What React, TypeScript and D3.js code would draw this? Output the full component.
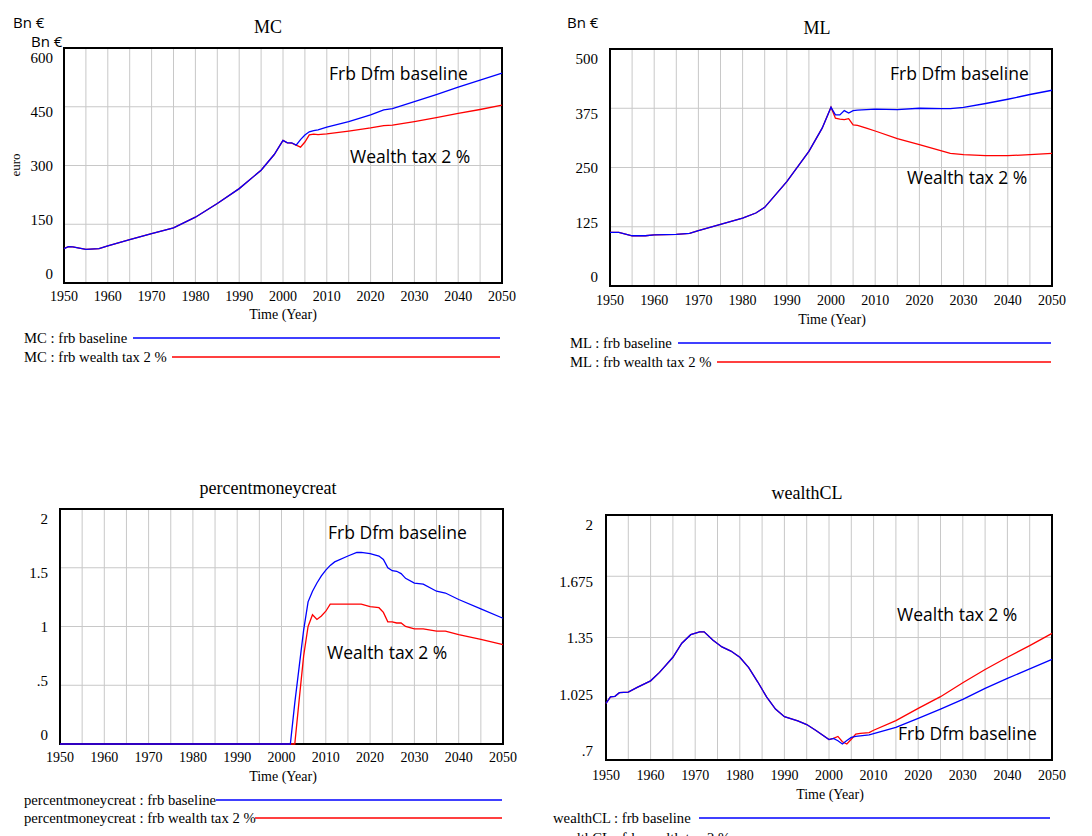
import React from 'react';
import * as d3 from 'd3';

// ---- shared time axis ----
const timeTicks = [1950, 1960, 1970, 1980, 1990, 2000, 2010, 2020, 2030, 2040, 2050];
const timeGrid = [1955, 1965, 1975, 1985, 1995, 2005, 2015, 2025, 2035, 2045];

// ---- MC (Bn €) ----
const mcYears = [1950, 1951, 1952, 1955, 1958, 1960, 1965, 1970, 1975, 1980, 1985, 1990, 1995, 1998, 2000, 2001, 2002, 2003, 2004, 2005, 2006, 2007, 2008, 2010, 2015, 2020, 2023, 2025, 2030, 2035, 2040, 2045, 2050];
const mcBaseline = [88, 93, 92, 86, 88, 95, 111, 126, 141, 168, 203, 241, 288, 328, 364, 358, 358, 352, 366, 378, 386, 389, 391, 398, 412, 429, 442, 445, 463, 481, 500, 518, 536];
const mcWealthTax = [88, 93, 92, 86, 88, 95, 111, 126, 141, 168, 203, 241, 288, 328, 364, 358, 357, 352, 347, 360, 378, 380, 379, 381, 388, 396, 402, 403, 412, 422, 433, 443, 454];
const mcTicks = [0, 150, 300, 450, 600];
const mcTickLabels = ['0', '150', '300', '450', '600'];

// ---- ML (Bn €) ----
const mlYears = [1950, 1952, 1955, 1958, 1960, 1965, 1968, 1970, 1975, 1980, 1983, 1985, 1990, 1995, 1998, 2000, 2001, 2002, 2003, 2004, 2005, 2006, 2008, 2010, 2015, 2020, 2025, 2027, 2030, 2035, 2040, 2045, 2050];
const mlBaseline = [113, 113, 106, 106, 108, 109, 111, 117, 130, 143, 154, 166, 220, 284, 333, 377, 361, 361, 370, 365, 370, 371, 372, 373, 372, 375, 374, 374, 377, 385, 394, 404, 413];
const mlWealthTax = [113, 113, 106, 106, 108, 109, 111, 117, 130, 143, 154, 166, 220, 284, 333, 377, 354, 352, 351, 353, 340, 339, 333, 327, 311, 298, 285, 280, 277, 275, 275, 277, 280];
const mlTicks = [0, 125, 250, 375, 500];
const mlTickLabels = ['0', '125', '250', '375', '500'];

// ---- percentmoneycreat ----
const pmcYears = [1950, 2002, 2003, 2004, 2005, 2006, 2007, 2008, 2009, 2010, 2011, 2012, 2015, 2017, 2018, 2020, 2022, 2023, 2024, 2025, 2026, 2027, 2028, 2030, 2032, 2035, 2037, 2040, 2045, 2050];
const pmcBaseline = [0, 0, 0.35, 0.66, 0.97, 1.21, 1.3, 1.37, 1.43, 1.48, 1.52, 1.55, 1.6, 1.63, 1.63, 1.62, 1.6, 1.57, 1.5, 1.475, 1.47, 1.45, 1.41, 1.37, 1.36, 1.3, 1.285, 1.23, 1.15, 1.07];
const pmcWealthTax = [0, 0, 0, 0.38, 0.75, 1.0, 1.1, 1.06, 1.09, 1.13, 1.19, 1.19, 1.19, 1.19, 1.19, 1.17, 1.16, 1.12, 1.04, 1.04, 1.03, 1.03, 1.0, 0.98, 0.98, 0.96, 0.96, 0.93, 0.89, 0.845];
const pmcTicks = [0, 0.5, 1, 1.5, 2];
const pmcTickLabels = ['0', '.5', '1', '1.5', '2'];

// ---- wealthCL ----
const wclYears = [1950, 1951, 1952, 1953, 1955, 1957, 1960, 1962, 1965, 1967, 1969, 1971, 1972, 1974, 1976, 1978, 1980, 1982, 1984, 1986, 1988, 1990, 1993, 1995, 1997, 2000, 2001, 2002, 2003, 2004, 2005, 2006, 2007, 2009, 2010, 2015, 2020, 2025, 2030, 2035, 2040, 2045, 2050];
const wclBaseline = [1.0, 1.035, 1.038, 1.057, 1.06, 1.085, 1.12, 1.165, 1.245, 1.32, 1.365, 1.38, 1.38, 1.335, 1.3, 1.278, 1.245, 1.19, 1.115, 1.035, 0.97, 0.93, 0.908, 0.888, 0.858, 0.808, 0.815, 0.802, 0.785, 0.803, 0.82, 0.825, 0.828, 0.833, 0.84, 0.873, 0.921, 0.97, 1.022, 1.08, 1.133, 1.183, 1.234];
const wclWealthTax = [1.0, 1.035, 1.038, 1.057, 1.06, 1.085, 1.12, 1.165, 1.245, 1.32, 1.365, 1.38, 1.38, 1.335, 1.3, 1.278, 1.245, 1.19, 1.115, 1.035, 0.97, 0.93, 0.908, 0.888, 0.858, 0.808, 0.815, 0.825, 0.797, 0.785, 0.81, 0.838, 0.841, 0.845, 0.858, 0.909, 0.974, 1.036, 1.11, 1.18, 1.245, 1.307, 1.372];
const wclTicks = [0.7, 1.025, 1.35, 1.675, 2];
const wclTickLabels = ['.7', '1.025', '1.35', '1.675', '2'];

const SERIF = '"Liberation Serif", "Times New Roman", serif';
const SANS = '"Open Sans", "Noto Sans", sans-serif';
const BLUE = '#0000ff';
const RED = '#ff0000';

type Note = { text: string; x: number; y: number };
type PanelProps = {
  name: string;
  years: number[];
  baseline: number[];
  tax: number[];
  ticks: number[];
  tickLabels: string[];
  box: { l: number; t: number; r: number; b: number };
  titleX: number;
  titleY: number;
  labelRight: number;
  xLabelY: number;
  axisTitle: { x: number; y: number };
  legend: { x: number; y1: number; y2: number; s1: number; s2: number; end: number };
  notes: Note[];
};

function Panel(p: PanelProps) {
  const { box } = p;
  const x = d3.scaleLinear().domain([1950, 2050]).range([box.l, box.r]);
  const yDomain = [p.ticks[0], p.ticks[p.ticks.length - 1]];
  const y = d3.scaleLinear().domain(yDomain).range([box.b, box.t]);
  // tick labels are spread slightly inside the plot box
  const yl = d3.scaleLinear().domain(yDomain).range([box.b - 9, box.t + 10]);
  const line = d3
    .line<number>()
    .x((_, i) => x(p.years[i]))
    .y((d) => y(d));
  return (
    <g>
      <text x={p.titleX} y={p.titleY} textAnchor="middle" dominantBaseline="central" fontFamily={SERIF} fontSize={18}>
        {p.name}
      </text>
      {/* grid */}
      {timeGrid.concat(timeTicks).map((yr) => (
        <line key={'v' + yr} x1={x(yr)} x2={x(yr)} y1={box.t} y2={box.b} stroke="#c8c8c8" strokeWidth={1} />
      ))}
      {p.ticks.slice(1, -1).map((v) => (
        <line key={'h' + v} x1={box.l} x2={box.r} y1={y(v)} y2={y(v)} stroke="#c8c8c8" strokeWidth={1} />
      ))}
      <rect x={box.l} y={box.t} width={box.r - box.l} height={box.b - box.t} fill="none" stroke="#000" strokeWidth={2} />
      {/* y tick labels */}
      {p.ticks.map((v, i) => (
        <text key={'yl' + v} x={p.labelRight} y={yl(v)} textAnchor="end" dominantBaseline="central" fontFamily={SERIF} fontSize={15}>
          {p.tickLabels[i]}
        </text>
      ))}
      {/* x tick labels */}
      {timeTicks.map((yr) => (
        <text key={'xl' + yr} x={x(yr)} y={p.xLabelY} textAnchor="middle" dominantBaseline="central" fontFamily={SERIF} fontSize={14}>
          {yr}
        </text>
      ))}
      <text x={p.axisTitle.x} y={p.axisTitle.y} textAnchor="middle" dominantBaseline="central" fontFamily={SERIF} fontSize={14}>
        Time (Year)
      </text>
      {/* series */}
      <path d={line(p.tax) || ''} fill="none" stroke={RED} strokeWidth={1.3} />
      <path d={line(p.baseline) || ''} fill="none" stroke={BLUE} strokeWidth={1.3} />
      {/* annotations */}
      {p.notes.map((n) => (
        <text key={n.text} x={n.x} y={n.y} dominantBaseline="central" fontFamily={SANS} fontSize={17.5} fill="#000">
          {n.text}
        </text>
      ))}
      {/* legend */}
      <text x={p.legend.x} y={p.legend.y1} dominantBaseline="central" fontFamily={SERIF} fontSize={14.7}>
        {p.name} : frb baseline
      </text>
      <line x1={p.legend.s1} x2={p.legend.end} y1={p.legend.y1} y2={p.legend.y1} stroke={BLUE} strokeWidth={1.3} />
      <text x={p.legend.x} y={p.legend.y2} dominantBaseline="central" fontFamily={SERIF} fontSize={14.7}>
        {p.name} : frb wealth tax 2 %
      </text>
      <line x1={p.legend.s2} x2={p.legend.end} y1={p.legend.y2} y2={p.legend.y2} stroke={RED} strokeWidth={1.3} />
    </g>
  );
}

export default function App() {
  return (
    <svg width={1092} height={836} style={{ position: 'absolute', left: 0, top: 0, display: 'block', background: '#fff' }}>
      <rect width={1092} height={836} fill="#fff" />
      <text x={13} y={22} dominantBaseline="central" fontFamily={SANS} fontSize={15}>Bn €</text>
      <text x={31} y={41} dominantBaseline="central" fontFamily={SANS} fontSize={15}>Bn €</text>
      <text x={567} y={22} dominantBaseline="central" fontFamily={SANS} fontSize={15}>Bn €</text>
      <text transform="translate(15,165) rotate(-90)" textAnchor="middle" dominantBaseline="central" fontFamily={SERIF} fontSize={13}>
        euro
      </text>
      <Panel
        name="MC"
        years={mcYears}
        baseline={mcBaseline}
        tax={mcWealthTax}
        ticks={mcTicks}
        tickLabels={mcTickLabels}
        box={{ l: 64, t: 48, r: 502, b: 283 }}
        titleX={268}
        titleY={27}
        labelRight={53}
        xLabelY={296}
        axisTitle={{ x: 283, y: 314 }}
        legend={{ x: 24, y1: 338, y2: 357, s1: 133, s2: 172, end: 500 }}
        notes={[
          { text: 'Frb Dfm baseline', x: 329, y: 73 },
          { text: 'Wealth tax 2 %', x: 350, y: 156 },
        ]}
      />
      <Panel
        name="ML"
        years={mlYears}
        baseline={mlBaseline}
        tax={mlWealthTax}
        ticks={mlTicks}
        tickLabels={mlTickLabels}
        box={{ l: 610, t: 49, r: 1052, b: 286 }}
        titleX={817}
        titleY={28}
        labelRight={598}
        xLabelY={300}
        axisTitle={{ x: 832, y: 319 }}
        legend={{ x: 570, y1: 343, y2: 362, s1: 678, s2: 717, end: 1051 }}
        notes={[
          { text: 'Frb Dfm baseline', x: 890, y: 73 },
          { text: 'Wealth tax 2 %', x: 907, y: 177 },
        ]}
      />
      <Panel
        name="percentmoneycreat"
        years={pmcYears}
        baseline={pmcBaseline}
        tax={pmcWealthTax}
        ticks={pmcTicks}
        tickLabels={pmcTickLabels}
        box={{ l: 60, t: 509, r: 503, b: 744 }}
        titleX={268}
        titleY={488}
        labelRight={48}
        xLabelY={757}
        axisTitle={{ x: 283, y: 776 }}
        legend={{ x: 24, y1: 800, y2: 818, s1: 216, s2: 255, end: 502 }}
        notes={[
          { text: 'Frb Dfm baseline', x: 328, y: 532 },
          { text: 'Wealth tax 2 %', x: 327, y: 652 },
        ]}
      />
      <Panel
        name="wealthCL"
        years={wclYears}
        baseline={wclBaseline}
        tax={wclWealthTax}
        ticks={wclTicks}
        tickLabels={wclTickLabels}
        box={{ l: 606, t: 515, r: 1052, b: 760 }}
        titleX={807}
        titleY={493}
        labelRight={593}
        xLabelY={775}
        axisTitle={{ x: 830, y: 794 }}
        legend={{ x: 553, y1: 818, y2: 838, s1: 699, s2: 738, end: 1050 }}
        notes={[
          { text: 'Wealth tax 2 %', x: 897, y: 614 },
          { text: 'Frb Dfm baseline', x: 898, y: 733 },
        ]}
      />
    </svg>
  );
}
